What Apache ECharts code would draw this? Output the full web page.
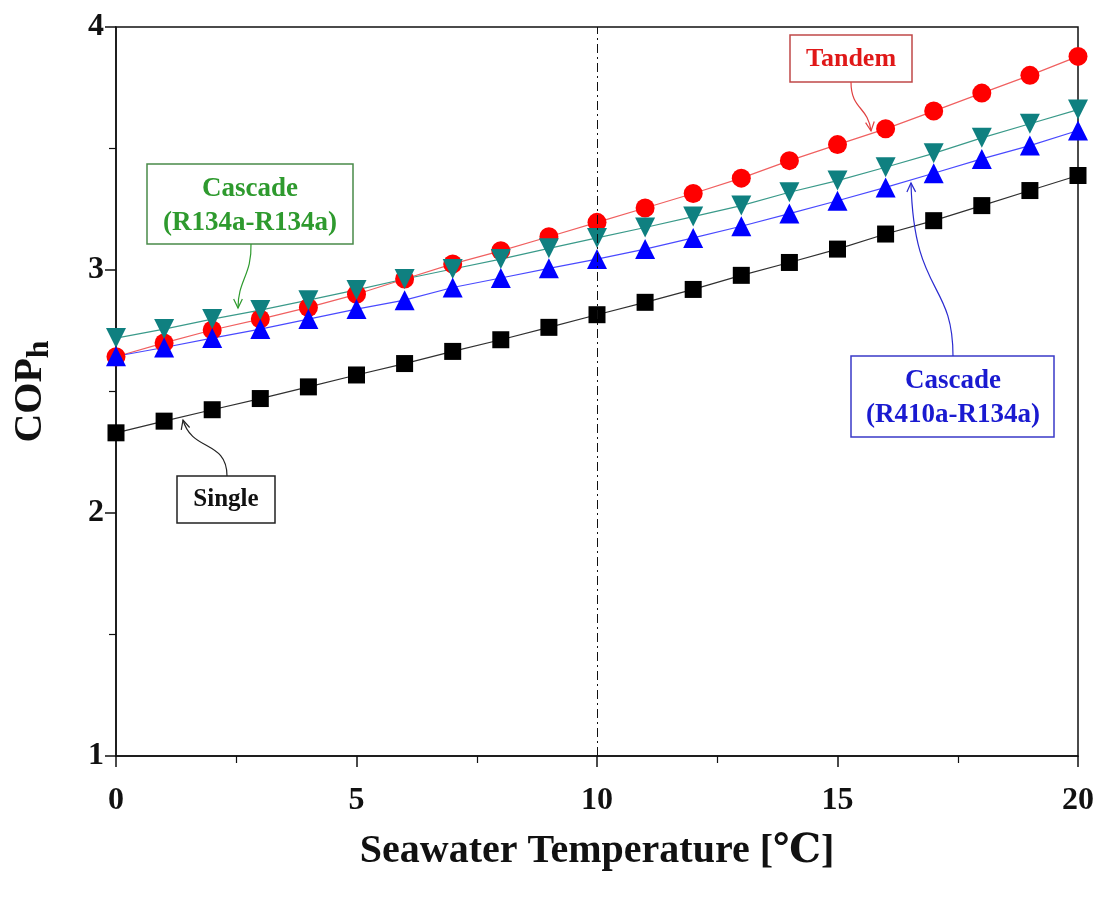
<!DOCTYPE html>
<html>
<head>
<meta charset="utf-8">
<script src="https://cdn.jsdelivr.net/npm/echarts@6/dist/echarts.min.js"></script>
<style>html,body{margin:0;padding:0;background:#fff;}#c{width:1106px;height:898px;}</style>
</head>
<body>
<div id="c"></div>
<script>
const temps = [0,1,2,3,4,5,6,7,8,9,10,11,12,13,14,15,16,17,18,19,20];
const single = [2.33,2.378,2.425,2.471,2.519,2.568,2.615,2.665,2.713,2.764,2.816,2.867,2.92,2.978,3.031,3.086,3.148,3.203,3.265,3.327,3.389];
const tandem = [2.643,2.70,2.753,2.798,2.846,2.90,2.963,3.025,3.079,3.137,3.196,3.255,3.315,3.378,3.45,3.516,3.581,3.654,3.728,3.801,3.879];
const cascade134 = [2.72,2.757,2.798,2.835,2.876,2.918,2.963,3.004,3.045,3.089,3.132,3.175,3.22,3.265,3.32,3.368,3.423,3.48,3.544,3.602,3.66];
const cascade410 = [2.645,2.681,2.72,2.757,2.798,2.839,2.876,2.928,2.967,3.007,3.045,3.086,3.132,3.18,3.232,3.285,3.34,3.398,3.457,3.512,3.574];
const xTicks = [0,5,10,15,20];
const yTicks = [1,2,3,4];

const FONT = '"Liberation Serif", "DejaVu Serif", serif';
const pairs = arr => temps.map((t,i)=>[t, arr[i]]);

const chart = echarts.init(document.getElementById('c'));

function arrow(points, color){
  const [x1,y1,c1x,c1y,c2x,c2y,x2,y2] = points;
  const ang = Math.atan2(y2-c2y, x2-c2x);
  const L = 10, a = 0.45;
  const h1 = [x2 - L*Math.cos(ang-a), y2 - L*Math.sin(ang-a)];
  const h2 = [x2 - L*Math.cos(ang+a), y2 - L*Math.sin(ang+a)];
  return [
    {type:'bezierCurve', shape:{x1,y1,cpx1:c1x,cpy1:c1y,cpx2:c2x,cpy2:c2y,x2,y2}, style:{stroke:color,lineWidth:1.2,fill:null}, z:100},
    {type:'polyline', shape:{points:[h1,[x2,y2],h2]}, style:{stroke:color,lineWidth:1.2,fill:null}, z:100}
  ];
}
function box(x,y,w,h,stroke){
  return {type:'rect', shape:{x,y,width:w,height:h}, style:{fill:'#fff',stroke,lineWidth:1.5}, z:100};
}
function txt(x,y,t,color,size){
  return {type:'text', x, y, style:{text:t, fill:color, font:'bold '+size+'px '+FONT, textAlign:'center', textVerticalAlign:'middle'}, z:101};
}

const graphics = [].concat(
  [box(790,35,122,47,'#c04848'), txt(851,59,'Tandem','#e01818',26)],
  arrow([851,82,851,110,868,106,871,131],'#e04040'),
  [box(147,164,206,80,'#4a8a4a'), txt(250,189,'Cascade','#2e9a2e',27), txt(250,223,'(R134a-R134a)','#2e9a2e',27)],
  arrow([251,244,252,275,238,280,238,308],'#2e9a2e'),
  [box(851,356,203,81,'#3a3ac8'), txt(953,381,'Cascade','#1a1ad0',27), txt(953,415,'(R410a-R134a)','#1a1ad0',27)],
  arrow([953,356,953,280,914,296,911,183],'#2a2ad0'),
  [box(177,476,98,47,'#222'), txt(226,500,'Single','#111',25)],
  arrow([227,476,227,440,192,452,183,420],'#222')
);

const sym = {
  single: {symbol:'rect', size:17, color:'#000000', line:'#303030'},
  tandem: {symbol:'circle', size:19, color:'#ff0000', line:'#f06060'},
  c134: {symbol:'triangle', size:20, color:'#0f8080', line:'#3a9a8a'},
  c410: {symbol:'triangle', size:20, color:'#0000ff', line:'#4a4aff'}
};

function mk(name, data, s, rot, extra){
  return Object.assign({
    name, type:'line', data:pairs(data), symbol:s.symbol, symbolSize:s.size, symbolRotate:rot||0,
    showAllSymbol:true,
    itemStyle:{color:s.color, borderWidth:0},
    lineStyle:{color:s.line, width:1.2},
    emphasis:{disabled:true}, animation:false
  }, extra||{});
}

chart.setOption({
  animation:false,
  backgroundColor:'#fff',
  grid:{left:116, right:28, top:27, bottom:142, show:true, borderColor:'#111', borderWidth:1.5, backgroundColor:'transparent'},
  xAxis:{
    type:'value', min:0, max:20, interval:5,
    axisLine:{show:true, onZero:false, lineStyle:{color:'#111', width:1.5}},
    axisTick:{show:true, inside:false, length:11, lineStyle:{color:'#111', width:1.5}},
    minorTick:{show:true, splitNumber:2, length:7, lineStyle:{color:'#111', width:1.2}},
    splitLine:{show:false},
    axisLabel:{color:'#111', fontFamily:FONT, fontWeight:'bold', fontSize:32, margin:29,
      formatter:v=>xTicks.includes(v)?String(v):''},
    name:'Seawater Temperature [℃]', nameLocation:'middle', nameGap:76,
    nameTextStyle:{color:'#111', fontFamily:FONT, fontWeight:'bold', fontSize:40}
  },
  yAxis:{
    type:'value', min:1, max:4, interval:1,
    axisLine:{show:true, onZero:false, lineStyle:{color:'#111', width:1.5}},
    axisTick:{show:true, inside:false, length:11, lineStyle:{color:'#111', width:1.5}},
    minorTick:{show:true, splitNumber:2, length:7, lineStyle:{color:'#111', width:1.2}},
    splitLine:{show:false},
    axisLabel:{color:'#111', fontFamily:FONT, fontWeight:'bold', fontSize:32, margin:12,
      formatter:v=>yTicks.includes(v)?String(v):''},
    name:'{a|COP}{b|h}', nameLocation:'middle', nameGap:60, nameRotate:90,
    nameTextStyle:{rich:{
      a:{color:'#111', fontFamily:FONT, fontWeight:'bold', fontSize:40},
      b:{color:'#111', fontFamily:FONT, fontWeight:'bold', fontSize:32, padding:[18,0,0,0]}
    }}
  },
  series:[
    mk('Single', single, sym.single, 0, {
      markLine:{silent:true, symbol:'none', label:{show:false},
        lineStyle:{color:'#111', width:1, type:[9,4,2,4]},
        data:[{xAxis:10}]}
    }),
    mk('Tandem', tandem, sym.tandem, 0),
    mk('Cascade (R134a-R134a)', cascade134, sym.c134, 180),
    mk('Cascade (R410a-R134a)', cascade410, sym.c410, 0)
  ],
  graphic:graphics
});
</script>
</body>
</html>
